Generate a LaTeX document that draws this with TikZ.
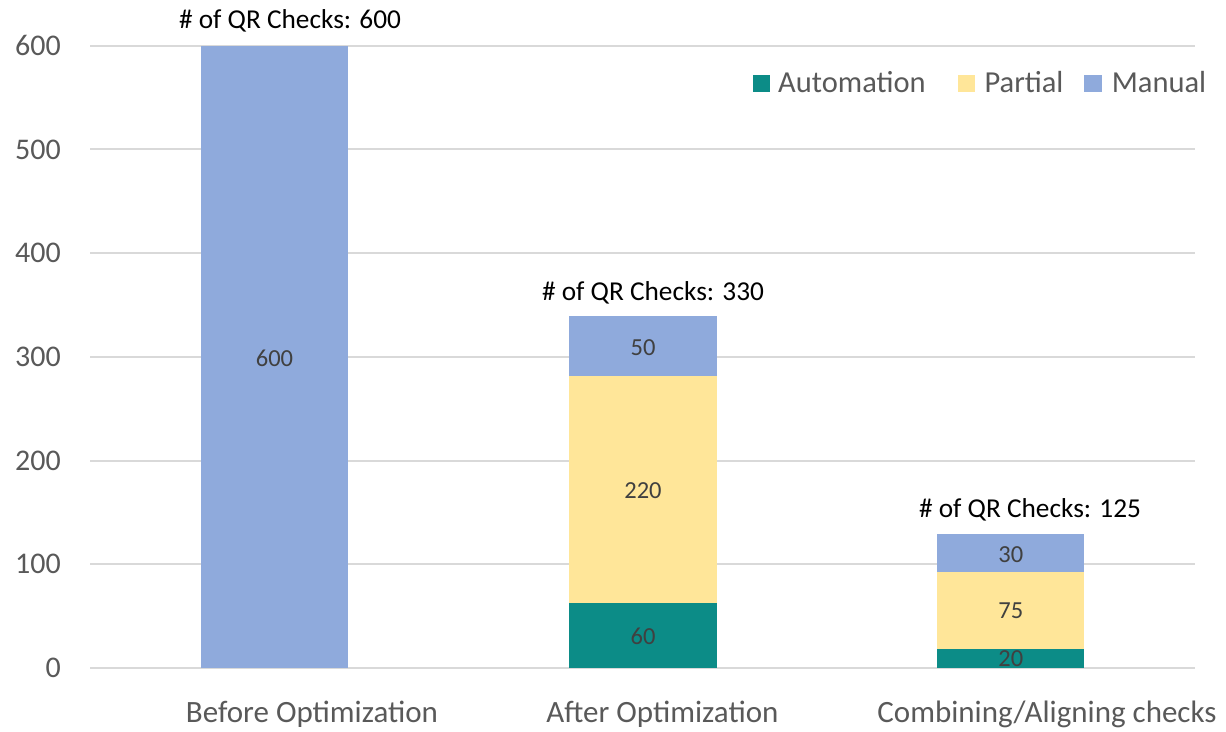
\documentclass[tikz,border=0pt]{standalone}
\usepackage{fontspec}
\setmainfont{Carlito}
\definecolor{autoc}{HTML}{0C8C87}
\definecolor{partc}{HTML}{FFE699}
\definecolor{manc}{HTML}{8FAADC}
\definecolor{axtext}{HTML}{595959}
\definecolor{datatext}{HTML}{404040}
\definecolor{gridc}{HTML}{D9D9D9}
\tikzset{
  gridline/.style={draw=gridc, line width=2pt},
  axlabel/.style={anchor=east, inner sep=0pt, text=axtext, font=\fontsize{30}{36}\selectfont},
  catlabel/.style={anchor=base, inner sep=0pt, text=axtext, font=\fontsize{31}{37}\selectfont},
  datalabel/.style={anchor=center, inner sep=0pt, text=datatext, font=\fontsize{24.5}{29}\selectfont},
  titlelabel/.style={anchor=base, inner sep=0pt, text=black, font=\fontsize{27.3}{33}\selectfont},
  leglabel/.style={anchor=base west, inner sep=0pt, text=axtext, font=\fontsize{30.5}{36}\selectfont},
  legbox/.style={inner sep=0pt, minimum size=17.7pt, anchor=south west},
}
\begin{document}
\begin{tikzpicture}[x=1pt, y=-1pt]
\useasboundingbox (0,0) rectangle (1226,731);
% grid lines and axis labels
\foreach \v/\yy in {0/667.7,100/564,200/460.6,300/356.7,400/253,500/149.4,600/45.7}{
  \draw[gridline] (90,\yy) -- (1195,\yy);
  \node[axlabel] (y\v) at (61,\yy) {\v};
}
% bar 1
\fill[manc] (200.7,45.7) rectangle (348.3,667.7);
\node[datalabel] (d1m) at (274.5,358) {600};
% bar 2
\fill[autoc] (569.3,603.3) rectangle (716.7,667.7);
\fill[partc] (569.3,375.7) rectangle (716.7,603.3);
\fill[manc] (569.3,316) rectangle (716.7,375.7);
\node[datalabel] (d2a) at (643,636) {60};
\node[datalabel] (d2p) at (643,490.5) {220};
\node[datalabel] (d2m) at (643,347.5) {50};
% bar 3
\fill[autoc] (937.3,648.7) rectangle (1084.3,667.7);
\fill[partc] (937.3,571.7) rectangle (1084.3,648.7);
\fill[manc] (937.3,534.3) rectangle (1084.3,571.7);
\node[datalabel] (d3a) at (1010.8,658.5) {20};
\node[datalabel] (d3p) at (1010.8,610.5) {75};
\node[datalabel] (d3m) at (1010.8,555) {30};
% totals
\node[titlelabel] (t1) at (290,28.5) {\# of QR Checks: 600};
\node[titlelabel] (t2) at (653,300) {\# of QR Checks: 330};
\node[titlelabel] (t3) at (1030,517) {\# of QR Checks: 125};
% categories
\node[catlabel] (c1) at (312,722) {Before Optimization};
\node[catlabel] (c2) at (662.4,722) {After Optimization};
\node[catlabel] (c3) at (1047,722) {Combining/Aligning checks};
% legend
\node[legbox, fill=autoc] (la) at (752.3,92.5) {};
\node[leglabel] (lat) at (778,92.5) {Automation};
\node[legbox, fill=partc] (lp) at (957.3,92.5) {};
\node[leglabel] (lpt) at (984.3,92.5) {Partial};
\node[legbox, fill=manc] (lm) at (1084,92.5) {};
\node[leglabel] (lmt) at (1111.7,92.5) {Manual};
\end{tikzpicture}
\end{document}
